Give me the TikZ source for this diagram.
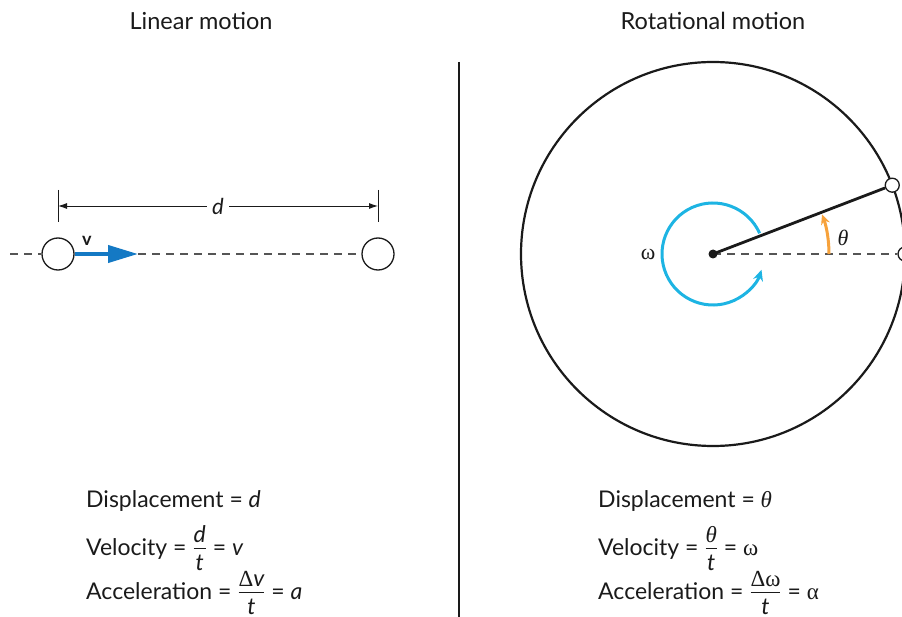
\documentclass[tikz,border=0pt]{standalone}
\usepackage{amsmath}
\usepackage{fontspec}
\setmainfont{Lato}
\newfontfamily\grk{Liberation Serif}
\usetikzlibrary{arrows.meta,calc,positioning}
\definecolor{rmBlue}{HTML}{1479C4}
\definecolor{rmCyan}{HTML}{1DB4E3}
\definecolor{rmOrange}{HTML}{F7A23B}
\definecolor{rmDash}{HTML}{555555}
\definecolor{rmInk}{HTML}{1A1A1A}
\newcommand{\rmfrac}[2]{$\dfrac{\raisebox{-4pt}{#1}}{\raisebox{2pt}{#2}}$}
\tikzset{
  title/.style={font=\fontsize{23.5}{28}\selectfont, inner sep=0pt, text=rmInk},
  eqn/.style={font=\fontsize{23}{28}\selectfont, anchor=base west, inner sep=0pt, text=rmInk},
  ball/.style={circle, draw=rmInk, fill=white, minimum size=32pt, inner sep=0pt, line width=1.3pt},
  rimdot/.style={circle, draw=rmInk, fill=white, minimum size=14pt, inner sep=0pt, line width=1.3pt},
  axisline/.style={rmDash, line width=1.3pt, dash pattern=on 8pt off 6pt},
  dimline/.style={rmInk, line width=0.9pt},
  dimarrow/.style={dimline, {Latex[length=9pt,width=6pt]}-{Latex[length=9pt,width=6pt]}},
  velarrow/.style={rmBlue, line width=4pt, -{Triangle[length=30pt,width=17pt]}},
  wheel/.style={rmInk, line width=2.2pt},
  spoke/.style={rmInk, line width=2.8pt},
  spin/.style={rmCyan, line width=3pt, -{Stealth[length=11pt,width=10pt]}},
  sweep/.style={rmOrange, line width=3pt, -{Stealth[length=10pt,width=9pt]}},
  tag/.style={font=\fontsize{22}{26}\selectfont, inner sep=1pt, text=rmInk}
}
\begin{document}
\begin{tikzpicture}[x=1pt,y=1pt]
  \useasboundingbox (0,0) rectangle (902,-617);
  \clip (0,0) rectangle (902,-617);

  \node[title] (lin) at (201,-21) {Linear motion};
  \node[title] (rot) at (713,-21) {Rotational motion};
  \coordinate (divtop) at (459,-62);
  \coordinate (divbot) at (459,-617);
  \draw[dimline, line width=1.4pt] (divtop) -- (divbot);

  \node[ball] (p1) at (58,-254) {};
  \node[ball] (p2) at (378,-254) {};
  \coordinate (lstart) at (10,-254);
  \coordinate (vtip) at (138,-254);
  \draw[axisline] (lstart) -- (p1.west);
  \draw[axisline] (vtip) -- (p2.west);
  \draw[velarrow] (p1.east) -- (vtip);
  \node[tag, font=\fontsize{18}{22}\selectfont\bfseries] (v) at (87,-241) {v};
  \draw[dimline] ($(p1)+(0,64)$) -- ($(p1)+(0,32)$);
  \draw[dimline] ($(p2)+(0,64)$) -- ($(p2)+(0,32)$);
  \draw[dimarrow] ($(p1)+(0,48)$) -- node[tag, fill=white, inner xsep=5pt] (d) {\itshape d} ($(p2)+(0,48)$);

  \coordinate (hub) at (713,-254);
  \draw[wheel] (hub) circle (192);
  \node[rimdot] (rim0) at ($(hub)+(0:192)$) {};
  \node[rimdot] (rim1) at ($(hub)+(21:192)$) {};
  \draw[axisline] (hub) -- (rim0.west);
  \draw[spoke] (hub) -- (rim1);
  \fill[rmInk] (hub) circle (4.5);
  \draw[spin] ($(hub)+(24:51)$) arc[start angle=24, end angle=342, radius=51];
  \draw[sweep] ($(hub)+(0:116)$) arc[start angle=0, end angle=20, radius=116];
  \node[tag] (w) at (648,-254) {\grk ω};
  \node[tag] (th) at (843,-238) {\grk\itshape θ};

  \node[eqn] (ld) at (86,-507) {Displacement = \textit{d}};
  \node[eqn] (lv) at (86,-555) {Velocity = \rmfrac{\itshape d}{\itshape t} = \textit{v}};
  \node[eqn] (la) at (86,-599) {Acceleration = \rmfrac{{\grk Δ}\itshape v}{\itshape t} = \textit{a}};

  \node[eqn] (rd) at (598,-507) {Displacement = {\grk\itshape θ}};
  \node[eqn] (rv) at (598,-555) {Velocity = \rmfrac{\grk\itshape θ}{\itshape t} = {\grk ω}};
  \node[eqn] (ra) at (598,-599) {Acceleration = \rmfrac{\grk Δω}{\itshape t} = {\grk α}};
\end{tikzpicture}
\end{document}
